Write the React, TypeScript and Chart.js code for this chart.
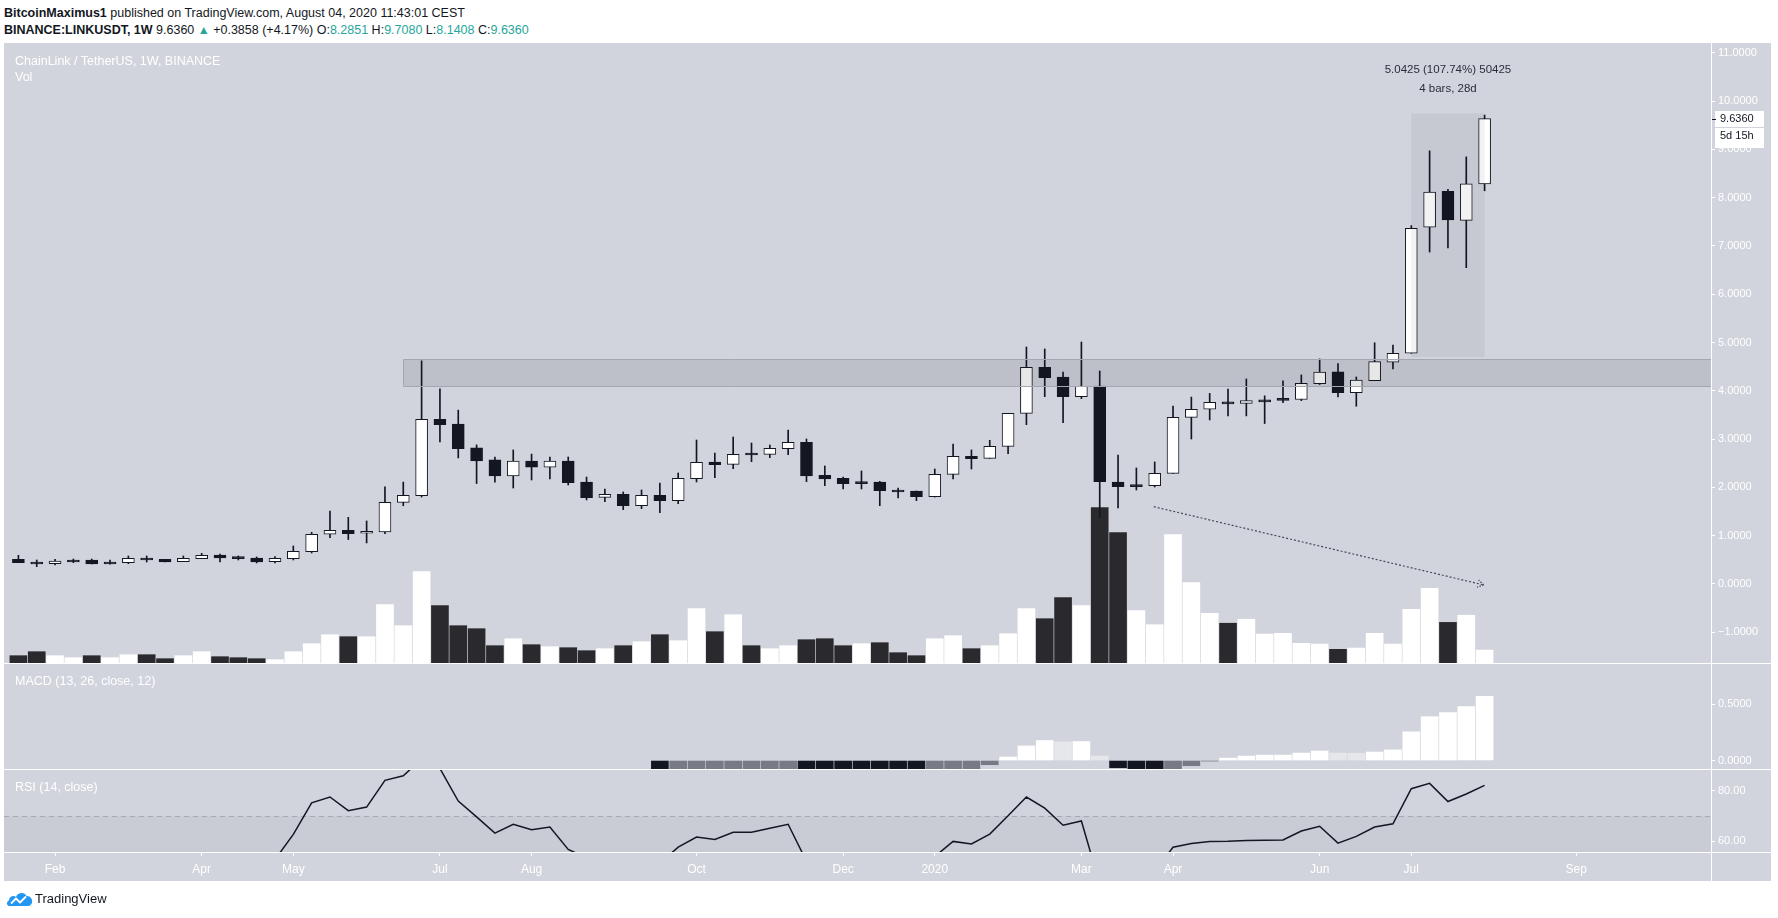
import React, { useEffect, useRef } from "react";
import { Chart, registerables } from "chart.js";

Chart.register(...registerables);

// ---------------- data (weekly bars, week 0 = 21 Jan 2019 ... week 80 = 3 Aug 2020) ----------------
const OPEN = [
  0.511, 0.448, 0.42, 0.49, 0.497, 0.455, 0.441, 0.538, 0.51, 0.462,
  0.524, 0.6, 0.56, 0.538, 0.462, 0.524, 0.67, 1.03, 1.11, 1.05,
  1.08, 1.69, 1.83, 3.41, 3.31, 2.82, 2.57, 2.24, 2.546, 2.42,
  2.546, 2.11, 1.794, 1.857, 1.622, 1.836, 1.725, 2.18, 2.526, 2.478,
  2.7, 2.685, 2.802, 2.933, 2.25, 2.188, 2.112, 2.112, 1.946, 1.925,
  1.808, 2.271, 2.643, 2.6, 2.85, 3.533, 4.486, 4.286, 3.878, 4.1,
  2.112, 2.05, 2.036, 2.291, 3.451, 3.62, 3.763, 3.74, 3.805, 3.83,
  3.82, 4.146, 4.395, 3.963, 4.212, 4.595, 4.777, 7.388, 8.128, 7.53, 8.2851,
];
const HIGH = [
  0.594, 0.497, 0.51, 0.517, 0.517, 0.497, 0.58, 0.58, 0.51, 0.58,
  0.635, 0.62, 0.58, 0.56, 0.566, 0.787, 1.07, 1.51, 1.38, 1.305,
  2.01, 2.11, 4.62, 4.04, 3.6, 2.88, 2.63, 2.775, 2.69, 2.63,
  2.63, 2.215, 1.967, 1.905, 1.946, 2.091, 2.298, 2.981, 2.712, 3.043,
  2.919, 2.878, 3.188, 3.002, 2.443, 2.215, 2.34, 2.125, 1.988, 1.925,
  2.381, 2.899, 2.775, 2.975, 3.533, 4.907, 4.866, 4.389, 5.01, 4.41,
  2.671, 2.402, 2.526, 3.685, 3.87, 3.946, 4.038, 4.245, 3.896, 4.204,
  4.329, 4.661, 4.561, 4.287, 4.994, 4.944, 7.42, 8.968, 8.17, 8.843, 9.708,
];
const LOW = [
  0.442, 0.359, 0.393, 0.441, 0.414, 0.41, 0.42, 0.455, 0.455, 0.462,
  0.524, 0.455, 0.497, 0.435, 0.435, 0.497, 0.642, 0.96, 0.92, 0.85,
  1.04, 1.62, 1.8, 2.94, 2.61, 2.08, 2.11, 1.987, 2.153, 2.174,
  2.05, 1.74, 1.705, 1.539, 1.56, 1.477, 1.663, 2.112, 2.202, 2.388,
  2.533, 2.616, 2.678, 2.119, 2.036, 1.967, 1.967, 1.622, 1.781, 1.725,
  1.8, 2.174, 2.381, 2.6, 2.698, 3.299, 3.878, 3.34, 3.837, 1.373,
  1.574, 1.946, 2.008, 2.29, 3.002, 3.397, 3.48, 3.48, 3.322, 3.755,
  3.796, 4.13, 3.871, 3.68, 4.21, 4.453, 4.777, 6.873, 6.956, 6.549, 8.1408,
];
const CLOSE = [
  0.442, 0.414, 0.476, 0.455, 0.414, 0.414, 0.531, 0.497, 0.455, 0.531,
  0.594, 0.538, 0.524, 0.455, 0.531, 0.676, 1.03, 1.11, 1.04, 1.09,
  1.69, 1.836, 3.41, 3.3, 2.8, 2.55, 2.24, 2.546, 2.42, 2.546,
  2.1, 1.788, 1.857, 1.622, 1.836, 1.725, 2.188, 2.519, 2.47, 2.685,
  2.67, 2.809, 2.933, 2.236, 2.174, 2.077, 2.077, 1.932, 1.905, 1.808,
  2.271, 2.643, 2.595, 2.85, 3.533, 4.486, 4.272, 3.878, 4.092, 2.119,
  2.015, 2.015, 2.291, 3.451, 3.616, 3.763, 3.73, 3.796, 3.77, 3.8,
  4.154, 4.387, 3.963, 4.22, 4.603, 4.777, 7.363, 8.112, 7.538, 8.2851, 9.636,
];
// volume (millions LINK, estimated)
const VOLUME = [
  9.5, 14.7, 9.5, 6.9, 9.5, 6.9, 10.8, 10.8, 5.6, 9.5,
  14.7, 8.2, 6.9, 5.6, 4.3, 14.7, 25.1, 36.8, 34.2, 34.2,
  75.8, 48.5, 118.7, 74.5, 48.5, 44.6, 22.5, 31.6, 23.8, 21.2,
  19.9, 16.0, 18.6, 22.5, 27.7, 36.8, 29.0, 70.6, 40.7, 62.8,
  22.5, 18.6, 22.5, 30.3, 31.6, 22.5, 25.1, 26.4, 13.4, 9.5,
  31.6, 35.5, 18.6, 22.5, 38.1, 70.6, 57.6, 84.9, 74.5, 201.9,
  169.4, 68.0, 49.8, 166.8, 104.4, 64.7, 51.7, 56.9, 37.6, 38.6,
  25.6, 24.6, 17.8, 19.4, 38.6, 24.6, 69.9, 97.1, 52.8, 62.1, 16.8,
];
const VOLUME_UP = [
  0, 0, 1, 1, 0, 1, 1, 0, 0, 1,
  1, 0, 0, 0, 1, 1, 1, 1, 0, 1,
  1, 1, 1, 0, 0, 0, 0, 1, 0, 1,
  0, 0, 1, 0, 1, 0, 1, 1, 0, 1,
  0, 1, 1, 0, 0, 0, 1, 0, 0, 0,
  1, 1, 0, 1, 1, 1, 0, 0, 1, 0,
  0, 1, 1, 1, 1, 1, 0, 1, 1, 1,
  1, 1, 0, 1, 1, 1, 1, 1, 0, 1, 1,
];
const MACD_HIST = [
  null, null, null, null, null, null, null, null, null, null,
  null, null, null, null, null, null, null, null, null, null,
  null, null, null, null, null, null, null, null, null, null,
  null, null, null, null, null, -0.3, -0.28, -0.25, -0.22, -0.19,
  -0.16, -0.13, -0.1, -0.12, -0.15, -0.18, -0.2, -0.22, -0.24, -0.25,
  -0.21, -0.15, -0.09, -0.037, 0.031, 0.129, 0.177, 0.165, 0.168, 0.04,
  -0.064, -0.12, -0.16, -0.1, -0.046, -0.005, 0.021, 0.039, 0.048, 0.048,
  0.066, 0.084, 0.066, 0.064, 0.075, 0.094, 0.254, 0.388, 0.424, 0.478, 0.567,
];
const RSI = [
  null, null, null, null, null, null, null, null, null, null,
  null, null, null, null, 52.7, 62.7, 75.2, 77.5, 72.1, 73.5,
  84.1, 85.9, 92.6, 88.8, 75.9, 69.6, 63.2, 66.7, 64.5, 65.6,
  56.7, 53.4, 54.5, 51.0, 53.0, 51.3, 57.6, 61.6, 60.7, 63.5,
  63.5, 65.1, 66.7, 52.0, 49.5, 48.0, 47.5, 45.0, 44.0, 43.5,
  53.9, 59.9, 58.9, 62.8, 70.1, 77.5, 73.1, 66.3, 68.0, 43.0,
  41.0, 41.5, 48.1, 57.6, 59.1, 59.9, 60.0, 60.3, 60.4, 60.5,
  64.0, 65.9, 59.2, 61.9, 65.6, 66.9, 80.8, 82.9, 75.7, 78.7, 82.1,
];
const TIME_TICK_WEEKS = [2, 10, 15, 23, 28, 37, 45, 50, 58, 63, 71, 76, 85];
const TIME_TICK_LABELS = ["Feb", "Apr", "May", "Jul", "Aug", "Oct", "Dec", "2020", "Mar", "Apr", "Jun", "Jul", "Sep"];
const PRICE_TICKS = [-1, 0, 1, 2, 3, 4, 5, 6, 7, 8, 9, 10, 11];
const MACD_TICKS = [0, 0.5];
const RSI_TICKS = [60, 80];
const RSI_UPPER = 70;
const RSI_LOWER = 30;

// drawings (in week / price units)
const ZONE_START_WEEK = 21;
const ZONE_LOW = 4.095;
const ZONE_HIGH = 4.652;
const MEASURE_FROM_WEEK = 76;
const MEASURE_TO_WEEK = 80;
const MEASURE_LOW = 4.7;
const MEASURE_HIGH = 9.7425;
const MEASURE_LABEL = "5.0425 (107.74%) 50425";
const MEASURE_SUB = "4 bars, 28d";
const ARROW_FROM = [61.95, 1.6];
const ARROW_TO = [79.95, -0.02];
const LAST_PRICE = 9.636;
const COUNTDOWN = "5d 15h";

// ---------------- scale ranges & styles ----------------
const X_MIN = -0.7857;
const X_MAX = 92.353;
const PRICE_MIN = -1.636;
const PRICE_MAX = 11.201;
const VOL_MAX = 806;
const MACD_MIN = -0.075;
const MACD_MAX = 0.863;
const RSI_MIN = 55.7;
const RSI_MAX = 88.6;

const FONT = '"Liberation Sans", Arial, sans-serif';
const BG = "#d1d4dc";
const DARK = "#131722";
const VOL_DOWN = "#2a2a2e";
const TEAL = "#26a69a";
const W = 1767;
const AXIS_W = 60;

const fmtSigned = (v: number, d: number) => (v < 0 ? "\u2212" + Math.abs(v).toFixed(d) : v.toFixed(d));

function rightAxis(min: number, max: number, ticks: number[], decimals: number) {
  return {
    position: "right",
    min,
    max,
    bounds: "data",
    afterBuildTicks: (s: any) => {
      s.ticks = ticks.map((v) => ({ value: v }));
    },
    afterFit: (s: any) => {
      s.width = AXIS_W;
      s.paddingTop = 0;
      s.paddingBottom = 0;
      s.paddingLeft = 0;
      s.paddingRight = 0;
    },
    ticks: {
      color: "#ffffff",
      font: { family: FONT, size: 11 },
      padding: 3,
      autoSkip: false,
      callback: (v: number) => fmtSigned(v, decimals),
    },
    grid: { display: true, drawOnChartArea: false, drawTicks: true, tickLength: 4, tickColor: "#ffffff", color: "#ffffff" },
    border: { display: true, color: "#ffffff", width: 1 },
  };
}

const hiddenX = {
  type: "linear",
  min: X_MIN,
  max: X_MAX,
  bounds: "data",
  offset: false,
  display: false,
  grid: { offset: false },
};

const baseOptions = {
  animation: false,
  responsive: false,
  devicePixelRatio: 1,
  events: [],
  layout: { padding: 0 },
};

const paneFrame = {
  id: "paneFrame",
  afterDraw(chart: any, _args: any, opts: any) {
    const { ctx, chartArea: a, width, height } = chart;
    ctx.save();
    ctx.fillStyle = "#ffffff";
    if (opts && opts.top) ctx.fillRect(0, 0, width, 1);
    if (opts && opts.timeAxis) {
      ctx.fillRect(0, Math.round(a.bottom), width, 1);
      ctx.fillRect(Math.round(a.right), a.bottom, 1, height - a.bottom);
    }
    ctx.restore();
  },
};

const priceOverlay = {
  id: "priceOverlay",
  afterDatasetsDraw(chart: any) {
    const { ctx, chartArea: a, scales } = chart;
    const x = scales.x;
    const y = scales.y;
    ctx.save();
    ctx.beginPath();
    ctx.rect(a.left, a.top, a.right - a.left, a.bottom - a.top);
    ctx.clip();

    // resistance zone
    const zx = Math.round(x.getPixelForValue(ZONE_START_WEEK)) + 0.5;
    const zt = Math.round(y.getPixelForValue(ZONE_HIGH)) + 0.5;
    const zb = Math.round(y.getPixelForValue(ZONE_LOW)) + 0.5;
    ctx.fillStyle = "rgba(19,23,34,0.10)";
    ctx.fillRect(zx, zt, a.right - zx, zb - zt);
    ctx.strokeStyle = "#a4a7af";
    ctx.lineWidth = 1;
    ctx.beginPath();
    ctx.moveTo(a.right, zt);
    ctx.lineTo(zx, zt);
    ctx.lineTo(zx, zb);
    ctx.lineTo(a.right, zb);
    ctx.stroke();

    // price range measurement
    const mx0 = x.getPixelForValue(MEASURE_FROM_WEEK);
    const mx1 = x.getPixelForValue(MEASURE_TO_WEEK);
    const my0 = y.getPixelForValue(MEASURE_HIGH);
    const my1 = y.getPixelForValue(MEASURE_LOW);
    ctx.fillStyle = "rgba(19,23,34,0.055)";
    ctx.fillRect(mx0, my0, mx1 - mx0, my1 - my0);
    ctx.fillStyle = "#2a2e39";
    ctx.font = `11.5px ${FONT}`;
    ctx.textAlign = "center";
    ctx.textBaseline = "middle";
    const cx = (mx0 + mx1) / 2;
    ctx.fillText(MEASURE_LABEL, cx, my0 - 44);
    ctx.fillText(MEASURE_SUB, cx, my0 - 25);

    // dotted trend arrow
    const ax0 = x.getPixelForValue(ARROW_FROM[0]);
    const ay0 = y.getPixelForValue(ARROW_FROM[1]);
    const ax1 = x.getPixelForValue(ARROW_TO[0]);
    const ay1 = y.getPixelForValue(ARROW_TO[1]);
    ctx.strokeStyle = "#454955";
    ctx.lineWidth = 1.2;
    ctx.setLineDash([2, 2]);
    ctx.beginPath();
    ctx.moveTo(ax0, ay0);
    ctx.lineTo(ax1, ay1);
    ctx.stroke();
    const ang = Math.atan2(ay1 - ay0, ax1 - ax0);
    ctx.setLineDash([1.5, 1.5]);
    ctx.beginPath();
    for (const s of [-1, 1]) {
      ctx.moveTo(ax1, ay1);
      ctx.lineTo(ax1 - 7 * Math.cos(ang + s * 0.55), ay1 - 7 * Math.sin(ang + s * 0.55));
    }
    ctx.stroke();
    ctx.restore();
  },
  afterDraw(chart: any) {
    const { ctx, chartArea: a, scales } = chart;
    const py = Math.round(scales.y.getPixelForValue(LAST_PRICE));
    const bx = a.right + 4;
    ctx.save();
    ctx.fillStyle = "#ffffff";
    ctx.fillRect(bx, py - 8, 49, 16);
    ctx.fillRect(bx, py + 9, 49, 20);
    ctx.fillStyle = DARK;
    ctx.fillRect(a.right + 1, py, 4, 1);
    ctx.font = `11px ${FONT}`;
    ctx.textAlign = "left";
    ctx.textBaseline = "middle";
    ctx.fillText(LAST_PRICE.toFixed(4), bx + 5, py);
    ctx.fillText(COUNTDOWN, bx + 5, py + 17);
    ctx.restore();
  },
};

const rsiBand = {
  id: "rsiBand",
  beforeDatasetsDraw(chart: any) {
    const { ctx, chartArea: a, scales } = chart;
    const y70 = scales.y.getPixelForValue(RSI_UPPER);
    const y30 = scales.y.getPixelForValue(RSI_LOWER);
    ctx.save();
    ctx.beginPath();
    ctx.rect(a.left, a.top, a.right - a.left, a.bottom - a.top);
    ctx.clip();
    ctx.fillStyle = "#c9ccd4";
    ctx.fillRect(a.left, y70, a.right - a.left, y30 - y70);
    ctx.strokeStyle = "#a6a9b1";
    ctx.lineWidth = 1;
    ctx.setLineDash([5, 4]);
    ctx.beginPath();
    ctx.moveTo(a.left, Math.round(y70) + 0.5);
    ctx.lineTo(a.right, Math.round(y70) + 0.5);
    ctx.stroke();
    ctx.restore();
  },
};

function macdColor(i: number) {
  const v = MACD_HIST[i] as number;
  const prev = MACD_HIST[i - 1];
  if (v >= 0) return prev == null || v >= prev ? "#ffffff" : "#e6e7eb";
  return prev == null || v < prev ? DARK : "#787b86";
}

export default function App() {
  const priceRef = useRef<HTMLCanvasElement>(null);
  const macdRef = useRef<HTMLCanvasElement>(null);
  const rsiRef = useRef<HTMLCanvasElement>(null);

  useEffect(() => {
    const weeks = OPEN.map((_, i) => i);

    const price = new Chart(priceRef.current as HTMLCanvasElement, {
      type: "bar",
      data: {
        datasets: [
          {
            label: "Vol",
            yAxisID: "vol",
            data: VOLUME.map((v, i) => ({ x: i, y: v })),
            backgroundColor: VOLUME_UP.map((u) => (u ? "#ffffff" : VOL_DOWN)),
            barThickness: 17,
            grouped: false,
            order: 3,
            borderWidth: 0,
          },
          {
            label: "Wick",
            yAxisID: "y",
            data: weeks.map((i) => ({ x: i, y: [LOW[i], HIGH[i]] })),
            backgroundColor: DARK,
            barThickness: 1,
            grouped: false,
            order: 2,
            borderWidth: 0,
          },
          {
            label: "Body",
            yAxisID: "y",
            data: weeks.map((i) => ({ x: i, y: [OPEN[i], CLOSE[i]] })),
            backgroundColor: weeks.map((i) => (CLOSE[i] >= OPEN[i] ? "#ffffff" : DARK)),
            borderColor: DARK,
            borderWidth: 1,
            borderSkipped: false,
            minBarLength: 2,
            barThickness: 12,
            grouped: false,
            order: 1,
          },
        ],
      } as any,
      options: {
        ...baseOptions,
        plugins: { legend: { display: false }, tooltip: { enabled: false } },
        scales: {
          x: hiddenX,
          y: rightAxis(PRICE_MIN, PRICE_MAX, PRICE_TICKS, 4),
          vol: { display: false, min: 0, max: VOL_MAX, position: "left" },
        },
      } as any,
      plugins: [priceOverlay],
    });

    const macdIdx = weeks.filter((i) => MACD_HIST[i] != null);
    const macd = new Chart(macdRef.current as HTMLCanvasElement, {
      type: "bar",
      data: {
        datasets: [
          {
            label: "MACD",
            data: macdIdx.map((i) => ({ x: i, y: MACD_HIST[i] })),
            backgroundColor: macdIdx.map((i) => macdColor(i)),
            barThickness: 17,
            grouped: false,
            borderWidth: 0,
            clip: 0,
          },
        ],
      } as any,
      options: {
        ...baseOptions,
        plugins: { legend: { display: false }, tooltip: { enabled: false }, paneFrame: { top: true } },
        scales: {
          x: hiddenX,
          y: rightAxis(MACD_MIN, MACD_MAX, MACD_TICKS, 4),
        },
      } as any,
      plugins: [paneFrame],
    });

    const rsi = new Chart(rsiRef.current as HTMLCanvasElement, {
      type: "line",
      data: {
        datasets: [
          {
            label: "RSI",
            data: RSI.map((v, i) => ({ x: i, y: v })),
            borderColor: DARK,
            borderWidth: 1.5,
            pointRadius: 0,
            tension: 0,
            fill: false,
            spanGaps: false,
            clip: 0,
          },
        ],
      } as any,
      options: {
        ...baseOptions,
        plugins: {
          legend: { display: false },
          tooltip: { enabled: false },
          paneFrame: { top: true, timeAxis: true },
        },
        scales: {
          x: {
            type: "linear",
            min: X_MIN,
            max: X_MAX,
            bounds: "data",
            offset: false,
            position: "bottom",
            afterBuildTicks: (s: any) => {
              s.ticks = TIME_TICK_WEEKS.map((v) => ({ value: v }));
            },
            afterFit: (s: any) => {
              s.height = 29;
              s.paddingLeft = 0;
              s.paddingRight = 0;
              s.paddingTop = 0;
              s.paddingBottom = 0;
            },
            ticks: {
              color: "#ffffff",
              font: { family: FONT, size: 12 },
              autoSkip: false,
              maxRotation: 0,
              minRotation: 0,
              padding: 6,
              callback: (_v: number, idx: number) => TIME_TICK_LABELS[idx],
            },
            grid: { display: true, drawOnChartArea: false, drawTicks: true, tickLength: 4, tickColor: "#ffffff", offset: false },
            border: { display: true, color: "#ffffff" },
          },
          y: rightAxis(RSI_MIN, RSI_MAX, RSI_TICKS, 2),
        },
      } as any,
      plugins: [rsiBand, paneFrame],
    });

    return () => {
      price.destroy();
      macd.destroy();
      rsi.destroy();
    };
  }, []);

  const paneLabel: React.CSSProperties = {
    position: "absolute",
    left: 11,
    color: "#ffffff",
    font: `12.5px ${FONT}`,
    lineHeight: "16px",
    whiteSpace: "nowrap",
    pointerEvents: "none",
  };
  const headerLine: React.CSSProperties = {
    position: "absolute",
    left: 4,
    color: DARK,
    font: `12.5px ${FONT}`,
    lineHeight: "16px",
    whiteSpace: "nowrap",
  };

  return (
    <div style={{ position: "absolute", left: 0, top: 0, width: 1778, height: 918, background: "#ffffff", overflow: "hidden" }}>
      <div style={{ ...headerLine, top: 5 }}>
        <b>BitcoinMaximus1</b> published on TradingView.com, August 04, 2020 11:43:01 CEST
      </div>
      <div style={{ ...headerLine, top: 22 }}>
        <b>BINANCE:LINKUSDT, 1W</b> 9.6360 <span style={{ color: TEAL, fontSize: 12 }}>▲</span> +0.3858 (+4.17%) O:
        <span style={{ color: TEAL }}>8.2851</span> H:<span style={{ color: TEAL }}>9.7080</span> L:
        <span style={{ color: TEAL }}>8.1408</span> C:<span style={{ color: TEAL }}>9.6360</span>
      </div>

      <div style={{ position: "absolute", left: 4, top: 43, width: W, height: 838, background: BG }}>
        <canvas ref={priceRef} width={W} height={620} style={{ position: "absolute", left: 0, top: 0, width: W, height: 620 }} />
        <canvas ref={macdRef} width={W} height={106} style={{ position: "absolute", left: 0, top: 620, width: W, height: 106 }} />
        <canvas ref={rsiRef} width={W} height={112} style={{ position: "absolute", left: 0, top: 726, width: W, height: 112 }} />
        <div style={{ ...paneLabel, top: 10 }}>ChainLink / TetherUS, 1W, BINANCE</div>
        <div style={{ ...paneLabel, top: 26 }}>Vol</div>
        <div style={{ ...paneLabel, top: 630 }}>MACD (13, 26, close, 12)</div>
        <div style={{ ...paneLabel, top: 736 }}>RSI (14, close)</div>
      </div>

      <div style={{ position: "absolute", left: 6, top: 891, display: "flex", alignItems: "center" }}>
        <svg width="27" height="15" viewBox="0 0 27 15">
          <path
            d="M3.5 15 C0.5 15 0 10.5 3 9.5 C3 5.5 7.5 4 10 6 C11.5 1.5 18.5 0.5 20.5 5 C24.5 4.8 27 8.5 26 11.5 C25.5 13.5 24 15 22 15 Z"
            fill="#2196f3"
          />
          <polyline points="5,12.5 10,7.5 14,11.5 20,5.5" fill="none" stroke="#ffffff" strokeWidth="1.8" strokeLinejoin="round" />
        </svg>
        <span style={{ marginLeft: 2, font: `13px ${FONT}`, color: DARK }}>TradingView</span>
      </div>
    </div>
  );
}
